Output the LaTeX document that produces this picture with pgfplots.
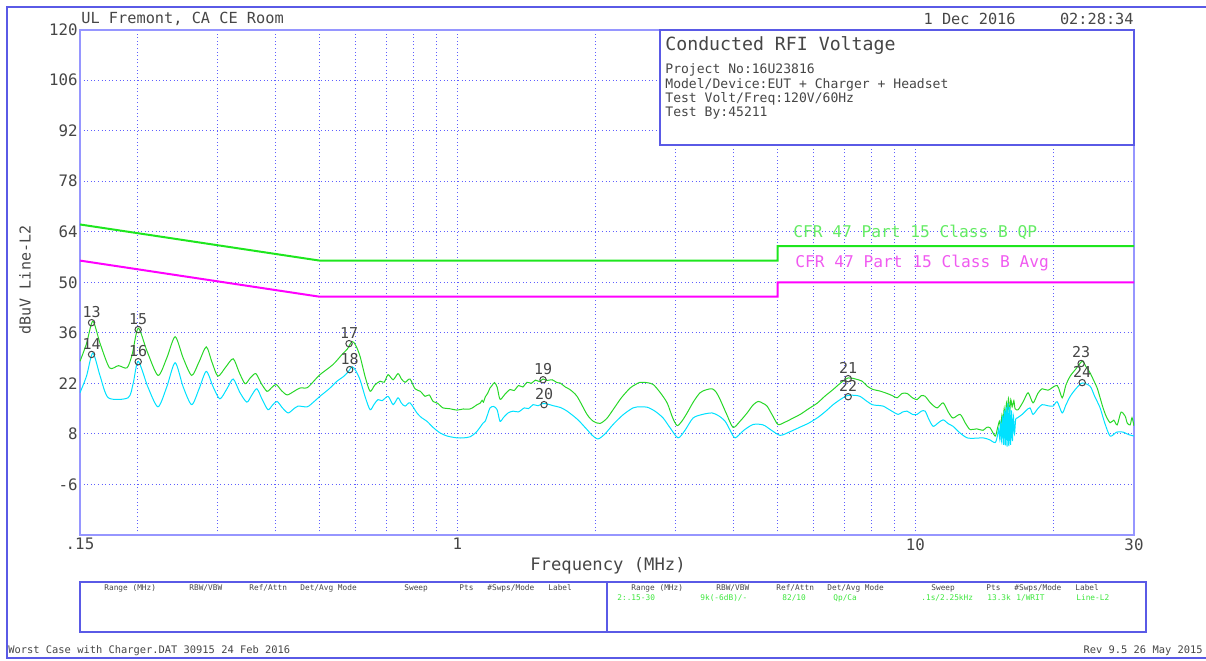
\documentclass[border=0pt]{standalone}
\usepackage{pgfplots}
\pgfplotsset{compat=1.18}
\usepackage{fontspec}
\setmainfont{DejaVu Sans Mono}

\definecolor{frameblue}{RGB}{90,90,230}
\definecolor{axisblue}{RGB}{150,150,255}
\definecolor{gridblue}{RGB}{95,95,255}
\definecolor{textgray}{RGB}{70,70,70}
\definecolor{qpgreen}{RGB}{30,230,30}
\definecolor{avgmag}{RGB}{255,0,255}
\definecolor{trgreen}{RGB}{40,215,40}
\definecolor{trcyan}{RGB}{0,225,255}
\definecolor{qptext}{RGB}{100,235,100}
\definecolor{avgtext}{RGB}{240,90,240}
\definecolor{tabgreen}{RGB}{60,230,60}

\newcommand{\fs}[1]{\fontsize{#1}{#1}\selectfont}

\begin{document}
\begin{tikzpicture}[txt/.style={inner sep=0pt, text=textgray}]
\useasboundingbox (0,0) rectangle (603pt,330pt);

\begin{axis}[
  at={(40pt,62.5pt)}, anchor=south west,
  width=527pt, height=252.75pt, scale only axis,
  xmode=log, xmin=0.15, xmax=30, ymin=-20, ymax=120,
  xtick={0.15,1,10,30}, xticklabels={.15,1,10,30},
  minor xtick={0.2,0.3,0.4,0.5,0.6,0.7,0.8,0.9,2,3,4,5,6,7,8,9,20},
  ytick={-6,8,22,36,50,64,78,92,106,120},
  yticklabels={-6,8,22,36,50,64,78,92,106,120},
  xmajorgrids, xminorgrids, ymajorgrids,
  major tick length=0pt, minor tick length=0pt,
  major grid style={gridblue, line width=0.45pt, dash pattern=on 0.5pt off 1.3pt},
  minor grid style={gridblue, line width=0.45pt, dash pattern=on 0.5pt off 1.3pt},
  axis line style={axisblue, line width=1pt},
  tick label style={font=\fs{7.9}, text=textgray},
  yticklabel style={inner sep=1pt},
  xticklabel style={inner sep=1.5pt},
]
% limit lines
\addplot[qpgreen, line width=1pt] coordinates {(0.15,66) (0.5,56) (5,56) (5,60) (30,60)};
\addplot[avgmag, line width=1pt] coordinates {(0.15,56) (0.5,46) (5,46) (5,50) (30,50)};

% peak trace
\addplot[trgreen, line width=0.5pt, smooth, tension=0.45] coordinates {
(0.150,28.1) (0.155,33) (0.160,39.2) (0.166,33) (0.174,26.3) (0.182,26.9) (0.190,26.3)
(0.195,30) (0.201,37.3) (0.210,31) (0.222,24.2) (0.232,29) (0.242,34.9) (0.252,29)
(0.263,24.2) (0.273,28) (0.283,32.1) (0.291,28) (0.300,24.0) (0.312,26.5) (0.324,28.8)
(0.334,25) (0.344,21.9) (0.353,23.5) (0.363,24.7) (0.373,22) (0.384,19.8) (0.393,20.8)
(0.402,21.7) (0.413,20) (0.425,18.8) (0.44,19.8) (0.453,20.7) (0.470,20.8) (0.485,22.5)
(0.501,24.4) (0.535,27.2) (0.560,30.0) (0.575,31.5) (0.589,33.6) (0.600,32.5) (0.613,29.5)
(0.630,23.5) (0.645,19.8) (0.66,21.5) (0.678,22.6) (0.692,22.3) (0.706,24.4) (0.724,23.0)
(0.742,24.7) (0.755,23.2) (0.769,22.3) (0.788,23.2) (0.808,20.5) (0.830,19.8) (0.850,18.4)
(0.868,18.8) (0.885,17.0) (0.905,16.5) (0.930,15.2) (0.96,15.0) (0.998,14.6) (1.03,14.9)
(1.066,14.9) (1.09,15.6) (1.104,16.1) (1.121,16.5) (1.132,17.3) (1.14,16.8) (1.15,18.2)
(1.165,19.3) (1.178,20.7) (1.19,21.4) (1.205,22.2) (1.221,21.0) (1.235,18.0) (1.245,17.6)
(1.27,19.0) (1.303,20.3) (1.33,20.0) (1.36,21.4) (1.39,21.0) (1.419,22.3) (1.45,22.0)
(1.48,22.9) (1.51,22.5) (1.538,23.2) (1.57,22.8) (1.61,23.0) (1.65,22.2) (1.676,22.1)
(1.72,21.0) (1.76,20.3) (1.825,18.4) (1.919,13.4) (1.98,11.5) (2.049,10.9) (2.12,12.3)
(2.187,14.7) (2.28,18.0) (2.382,20.7) (2.45,21.7) (2.505,22.3) (2.59,22.2) (2.675,21.7)
(2.77,19.5) (2.870,16.6) (2.95,12.5) (3.018,10.3) (3.09,11.5) (3.173,13.8) (3.28,17.0)
(3.387,19.4) (3.49,20.2) (3.599,20.5) (3.67,19.6) (3.747,17.5) (3.87,13.5) (3.999,9.8)
(4.14,11.5) (4.290,13.8) (4.42,16.0) (4.535,17.0) (4.64,16.5) (4.743,15.7) (4.88,13.0)
(5.013,10.6) (5.2,11.3) (5.409,12.4) (5.603,13.4) (5.85,15.0) (6.101,16.5) (6.35,18.5)
(6.611,20.3) (6.85,22.0) (7.13,23.5) (7.4,23.2) (7.649,22.6) (7.85,21.2) (8.082,20.3)
(8.35,19.9) (8.672,19.2) (8.9,18.6) (9.117,18.0) (9.35,19.2) (9.588,19.2) (9.85,18.0)
(10.08,17.5) (10.3,18.6) (10.50,18.4) (10.8,16.5) (11.15,15.2) (11.49,16.6) (11.8,14.0)
(12.08,12.4) (12.52,13.4) (12.85,11.0) (13.16,9.2) (13.6,9.4) (14.05,9.0) (14.3,9.8)
(14.55,9.7) (14.93,7.4) (15.1,9.5) (15.25,11.5) (15.35,9.8) (15.45,13.2) (15.54,11.0)
(15.62,15.0) (15.7,12.0) (15.8,16.5) (15.88,13.5) (15.96,17.8) (16.05,14) (16.15,17.5)
(16.26,15.5) (16.4,17.2) (16.5,15) (16.76,14.7) (17.2,17.0) (17.62,19.4) (18.06,16.6)
(18.5,19.2) (18.90,20.5) (19.48,20.1) (20.39,21.4) (20.91,18.0) (21.3,21.5) (21.77,24.0)
(22.4,26.0) (23.12,28.1) (23.6,26.5) (24.06,24.9) (24.5,22.8) (24.93,20.7) (25.3,18.0)
(25.68,15.2) (26.1,12.8) (26.61,11.1) (27.1,11.8) (27.57,10.5) (28.1,14.0) (28.70,12.9)
(29.0,11.0) (29.43,10.5) (29.7,12.5) (30.0,10.2)
};

% average trace
\addplot[trcyan, line width=0.5pt, smooth, tension=0.45] coordinates {
(0.150,19.4) (0.155,24) (0.160,30.4) (0.166,24) (0.173,18.0) (0.191,18.0) (0.196,22)
(0.201,28.1) (0.211,21) (0.222,15.5) (0.232,21) (0.242,27.7) (0.252,21) (0.263,16.1)
(0.273,20.5) (0.283,25.3) (0.293,21) (0.303,17.7) (0.314,20.5) (0.324,23.2) (0.335,19.5)
(0.347,16.8) (0.356,18.8) (0.365,20.5) (0.375,17.5) (0.386,14.7) (0.395,16.0) (0.404,17.0)
(0.415,15.2) (0.427,13.8) (0.438,14.8) (0.449,15.7) (0.470,15.5) (0.485,16.8) (0.501,18.4)
(0.525,20.5) (0.546,22.6) (0.563,23.8) (0.576,25.0) (0.589,26.6) (0.600,25.5) (0.613,23.0)
(0.630,18.0) (0.645,14.7) (0.658,16.2) (0.671,17.5) (0.685,17.2) (0.706,18.4) (0.724,16.1)
(0.742,18.0) (0.755,16.5) (0.769,15.7) (0.788,16.6) (0.816,13.8) (0.835,12.5) (0.858,11.5)
(0.885,9.8) (0.916,8.3) (0.95,7.4) (0.998,6.9) (1.03,6.9) (1.066,7.2) (1.10,8.5)
(1.138,11.0) (1.15,11.5) (1.165,13.5) (1.178,15.2) (1.2,15.6) (1.221,14.7) (1.239,11.5)
(1.26,12.5) (1.29,13.8) (1.323,14.3) (1.36,14.1) (1.4,15.2) (1.43,15.0) (1.463,16.1)
(1.5,15.8) (1.535,16.4) (1.570,16.3) (1.62,15.8) (1.68,15.3) (1.736,14.3) (1.83,12.0)
(1.919,9.2) (1.97,7.6) (2.028,6.6) (2.10,8.0) (2.187,10.6) (2.30,13.3) (2.418,15.2)
(2.50,15.5) (2.595,15.4) (2.70,14.3) (2.813,12.4) (2.92,9.5) (3.033,6.9) (3.14,9.0)
(3.270,12.4) (3.43,13.4) (3.599,13.8) (3.72,13.0) (3.842,11.5) (3.94,9.0) (4.040,6.9)
(4.22,9.0) (4.422,10.6) (4.649,10.5) (4.85,9.0) (5.064,7.6) (5.3,8.5) (5.603,9.9)
(5.85,11.0) (6.131,12.6) (6.4,14.5) (6.611,16.1) (6.85,17.5) (7.094,18.6) (7.35,18.7)
(7.572,18.4) (7.8,17.2) (8.043,16.1) (8.25,15.9) (8.499,15.7) (8.8,14.6) (9.164,13.4)
(9.35,14.0) (9.588,14.3) (9.85,13.4) (10.08,13.4) (10.3,14.3) (10.50,14.3) (10.7,12.0)
(10.93,10.1) (11.2,11.0) (11.49,11.9) (11.8,10.8) (12.08,10.1) (12.5,8.3) (12.97,6.9)
(13.5,6.8) (14.05,6.9) (14.5,6.4) (14.93,5.6) (15.1,7.5) (15.2,9.5) (15.28,6.5)
(15.35,11.0) (15.42,6.0) (15.5,13.0) (15.57,5.0) (15.64,14.5) (15.71,4.8) (15.78,15.5)
(15.85,4.5) (15.92,16.5) (15.99,4.6) (16.06,15.5) (16.13,5.0) (16.2,14.5) (16.28,6.0)
(16.36,13.0) (16.45,8.0) (16.55,12.0) (16.68,12.4) (17.10,13.4) (17.45,14.5) (17.79,15.2)
(18.06,13.4) (18.5,15.0) (18.90,16.1) (19.45,15.8) (19.98,15.7) (20.39,16.9) (20.91,13.8)
(21.3,16.0) (21.77,18.4) (22.4,20.5) (23.12,22.1) (24.06,21.2) (24.6,18.5) (25.30,15.2)
(25.9,11.0) (26.61,7.4) (27.5,8.5) (28.41,8.5) (29.2,7.8) (30.0,7.4)
};

% markers
\addplot[only marks, mark=o, mark size=1.6pt, textgray, mark options={line width=0.5pt},
  nodes near coords, point meta=explicit symbolic,
  every node near coord/.append style={font=\fs{7.5}, text=textgray, anchor=south, inner sep=0pt, yshift=2.4pt}]
  table[meta=lab] {
f dB lab
0.159 38.8 13
0.159 30.0 14
0.201 36.9 15
0.201 28.0 16
0.580 33.0 17
0.582 25.8 18
1.538 23.0 19
1.546 16.1 20
7.13 23.3 21
7.13 18.3 22
23.0 27.5 23
23.12 22.2 24
};
\end{axis}

\begin{scope}[yshift=330pt, x=0.5pt, y=-0.5pt]
\draw[frameblue, line width=0.75pt] (1206,7) -- (7,7) -- (7,658) -- (1206,658);

% header texts
\node[txt, anchor=west, font=\fs{7.64}] at (81,19) {UL Fremont, CA CE Room};
\node[txt, anchor=east, font=\fs{7.64}] at (1016,19) {1 Dec 2016};
\node[txt, anchor=east, font=\fs{7.64}] at (1134,19) {02:28:34};

% info box
\draw[frameblue, line width=0.6pt, fill=white] (660,30) rectangle (1134,145);
\node[txt, anchor=west, font=\fs{9.1}] at (665,45) {Conducted RFI Voltage};
\node[txt, anchor=west, font=\fs{6.53}] at (665,70) {Project No:16U23816};
\node[txt, anchor=west, font=\fs{6.53}] at (665,85) {Model/Device:EUT + Charger + Headset};
\node[txt, anchor=west, font=\fs{6.53}] at (665,99) {Test Volt/Freq:120V/60Hz};
\node[txt, anchor=west, font=\fs{6.53}] at (665,113) {Test By:45211};

% limit labels
\node[txt, anchor=west, text=qptext, font=\fs{8.1}] at (793,232) {CFR 47 Part 15 Class B QP};
\node[txt, anchor=west, text=avgtext, font=\fs{8.1}] at (795,263) {CFR 47 Part 15 Class B Avg};

% axis titles
\node[txt, rotate=90, font=\fs{7.5}] at (25,280) {dBuV Line-L2};
\node[txt, font=\fs{8.6}] at (608,566) {Frequency (MHz)};

% settings table
\draw[frameblue, line width=0.6pt] (80,582) rectangle (1146,632);
\draw[frameblue, line width=0.6pt] (607,582) -- (607,632);
\foreach \o in {0,527} {
  \node[txt, anchor=west, font=\fs{3.9}] at (104+\o,588) {Range (MHz)};
  \node[txt, anchor=west, font=\fs{3.9}] at (189+\o,588) {RBW/VBW};
  \node[txt, anchor=west, font=\fs{3.9}] at (249+\o,588) {Ref/Attn};
  \node[txt, anchor=west, font=\fs{3.9}] at (300+\o,588) {Det/Avg Mode};
  \node[txt, anchor=west, font=\fs{3.9}] at (404+\o,588) {Sweep};
  \node[txt, anchor=west, font=\fs{3.9}] at (459+\o,588) {Pts};
  \node[txt, anchor=west, font=\fs{3.9}] at (487+\o,588) {\#Swps/Mode};
  \node[txt, anchor=west, font=\fs{3.9}] at (548+\o,588) {Label};
}
\begin{scope}[every node/.style={txt, anchor=west, font=\fs{3.9}, text=tabgreen}]
  \node at (617,598) {2:.15-30};
  \node at (700,598) {9k(-6dB)/-};
  \node at (782,598) {82/10};
  \node at (833,598) {Qp/Ca};
  \node at (921,598) {.1s/2.25kHz};
  \node at (987,598) {13.3k};
  \node at (1016,598) {1/WRIT};
  \node at (1076,598) {Line-L2};
\end{scope}

% footer
\node[txt, anchor=west, font=\fs{5.2}] at (8,651) {Worst Case with Charger.DAT 30915 24 Feb 2016};
\node[txt, anchor=east, font=\fs{5.2}] at (1203,651) {Rev 9.5 26 May 2015};
\end{scope}
\end{tikzpicture}
\end{document}
